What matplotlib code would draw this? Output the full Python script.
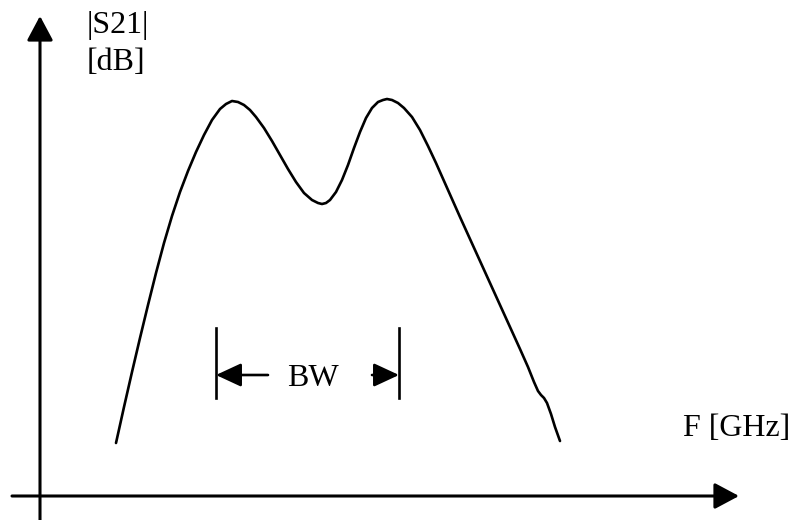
import matplotlib
matplotlib.use("Agg")
import matplotlib.pyplot as plt

# Frequency (arbitrary units, origin at axis crossing) and |S21| (arbitrary units)
freq = [76, 84, 92, 100, 108, 116, 124, 132, 140, 148, 156, 164, 172, 180,
        186, 192, 198, 204, 210, 216, 224, 232, 240, 248, 256, 264, 272, 278,
        282, 286, 290, 296, 302, 308, 314, 320, 326, 332, 338, 343, 347, 352,
        358, 364, 372, 380, 388, 396, 404, 412, 420, 430, 440, 450, 460, 470,
        480, 488, 494, 498, 501, 504, 507, 511, 515, 520]
s21 = [52, 88, 123, 157, 190, 222, 252, 279, 303, 324, 343, 360, 375, 386,
       391, 394, 393, 390, 385, 378, 367, 354, 340, 326, 313, 302, 295, 292,
       291, 292, 295, 303, 315, 330, 347, 363, 377, 387, 393, 395, 396, 395,
       392, 387, 378, 365, 349, 332, 314, 296, 278, 256, 234, 212, 190, 168,
       146, 128, 113, 104, 100, 97, 92, 81, 68, 54]

# Bandwidth markers
bw_edges = [176, 359]
bw_low, bw_high, bw_arrow = 97, 167, 120
bw_label = "BW"

y_label = ["|S21|", "[dB]"]
x_label = "F [GHz]"

fig = plt.figure(figsize=(8.03, 5.20), dpi=100)
ax = fig.add_axes([0, 0, 1, 1])
ax.set_xlim(-40, 763)
ax.set_ylim(-25, 495)
ax.axis("off")

font = dict(family="Liberation Serif", size=23, color="black")

# Axes with arrowheads
ax_arrow = dict(arrowstyle="-|>,head_length=1.5,head_width=0.8", lw=2.2,
                color="black", shrinkA=0, shrinkB=0, mutation_scale=10)
ax.annotate("", xy=(0, 479), xytext=(0, -25), arrowprops=ax_arrow)
ax.annotate("", xy=(699, -1), xytext=(-28, -1), arrowprops=ax_arrow)

# Response curve
ax.plot(freq, s21, color="black", lw=1.9, solid_capstyle="round",
        solid_joinstyle="round")

# BW markers
for e in bw_edges:
    ax.plot([e, e], [bw_low, bw_high], color="black", lw=1.9)
bw_arrow_style = dict(arrowstyle="-|>,head_length=1.55,head_width=0.72", lw=1.9,
                      color="black", shrinkA=0, shrinkB=0, mutation_scale=10)
ax.annotate("", xy=(bw_edges[0], bw_arrow), xytext=(228, bw_arrow),
            arrowprops=bw_arrow_style)
ax.annotate("", xy=(bw_edges[1], bw_arrow), xytext=(332, bw_arrow),
            arrowprops=bw_arrow_style)
ax.text(273, 116, bw_label, ha="center", va="center", **font)

# Labels
ax.text(47, 469, y_label[0], ha="left", va="center", **font)
ax.text(47, 433, y_label[1], ha="left", va="center", **font)
ax.text(643, 67, x_label, ha="left", va="center", **font)

fig.savefig("out.png", dpi=100, facecolor="white")
